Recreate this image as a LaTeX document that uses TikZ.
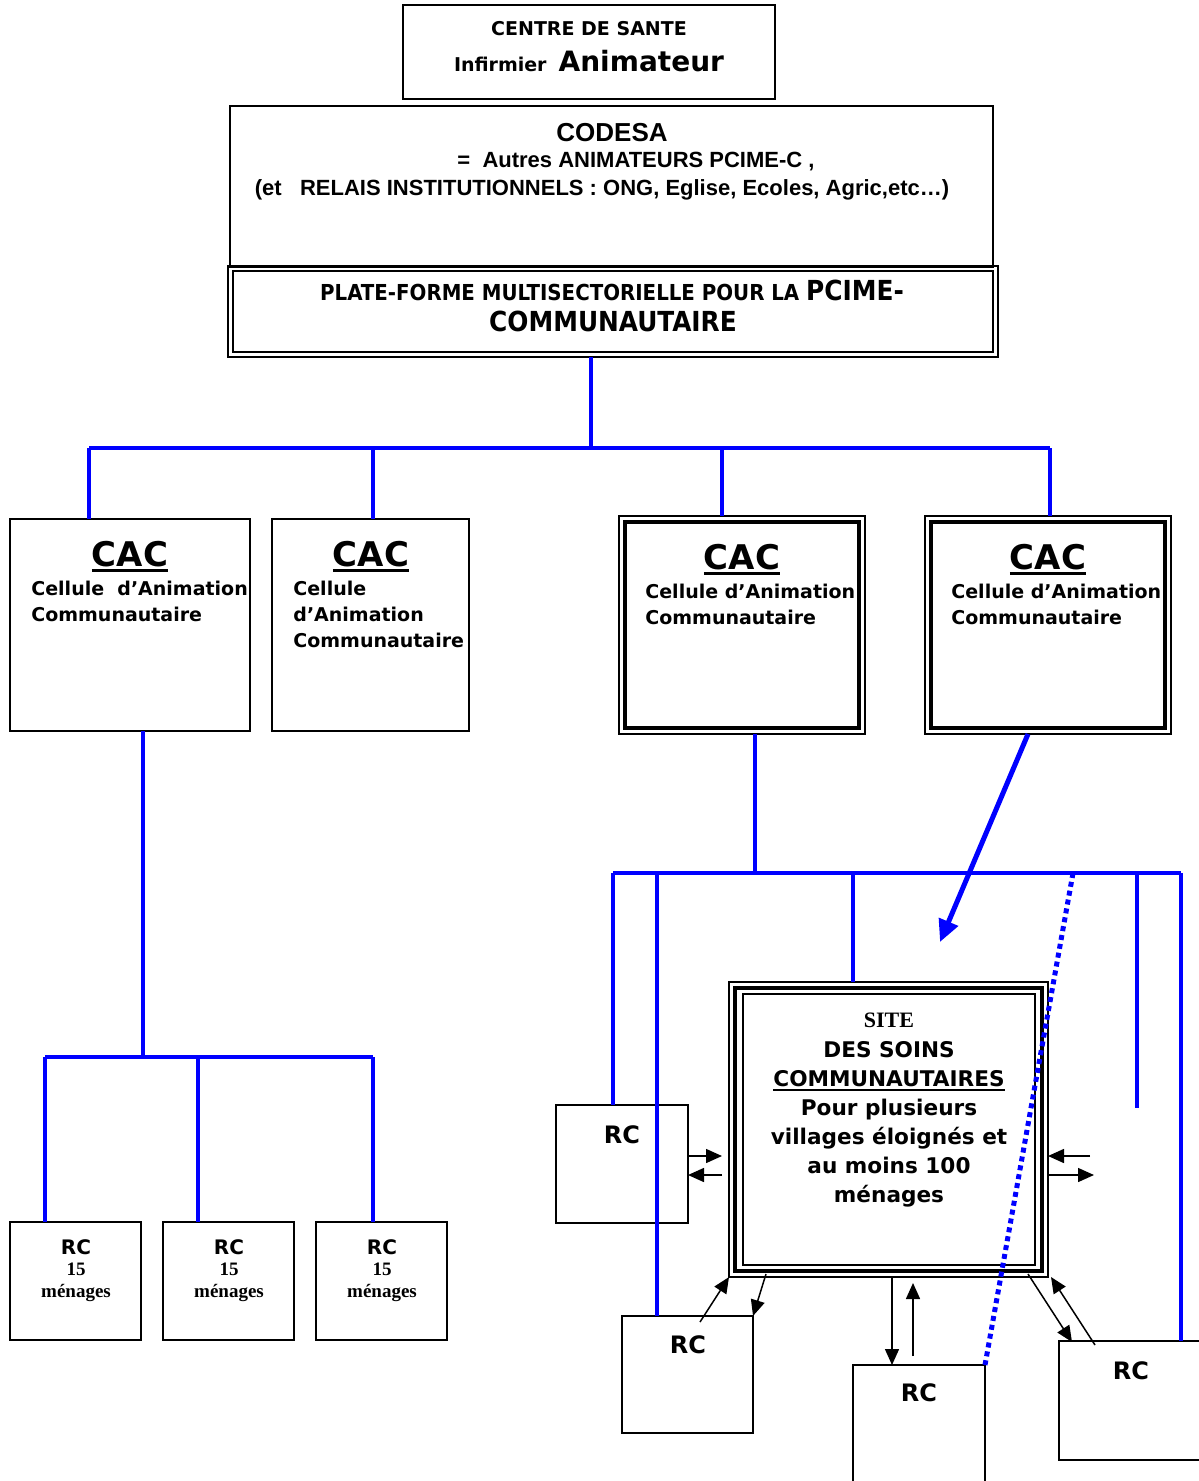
\documentclass[tikz,border=0pt]{standalone}
\usepackage{fontspec}
\setmainfont{DejaVu Sans}
\newfontfamily\arialf{Liberation Sans}
\newfontfamily\timesf{Liberation Serif}
\newfontfamily\condf{DejaVu Sans Condensed}
\usetikzlibrary{arrows.meta}
\newcommand\fs[1]{\fontsize{#1}{#1}\selectfont}
\newcommand\myul[3]{\leavevmode\setbox0=\hbox{#1}\rlap{\vrule height -#2 depth #3 width \wd0}\box0}
\newcommand\bxx[6]{\node[#6, minimum width={(#4-#2)*0.5pt}, minimum height={(#5-#3)*0.5pt}] (#1) at ({(#2+#4)/2},{(#3+#5)/2}) {};}
\begin{document}
\begin{tikzpicture}[x=0.5pt,y=-0.5pt,
  bx/.style={draw=black, line width=1pt, inner sep=0pt, outer sep=0pt},
  thinbx/.style={draw=black, line width=0.8pt, inner sep=0pt, outer sep=0pt},
  thickbx/.style={draw=black, line width=1.7pt, inner sep=0pt, outer sep=0pt},
  bl/.style={draw=blue, line width=1.6pt},
  ar/.style={draw=black, line width=0.75pt, -{Triangle[length=8pt,width=7pt]}},
  tb/.style={inner sep=0pt, anchor=base, font=\bfseries},
  tl/.style={inner sep=0pt, anchor=base west, font=\bfseries}]
\useasboundingbox[fill=white] (0,0) rectangle (1198,1481);
% ---------- boxes ----------
\bxx{top}{403}{5}{775}{99}{bx}
\bxx{codesa}{230}{106}{993}{267}{bx}
\bxx{pfo}{228}{266}{998}{357}{bx}
\bxx{pfi}{233}{271}{993}{352}{bx}
\bxx{cac1}{10}{519}{250}{731}{bx}
\bxx{cac2}{272}{519}{469}{731}{bx}
\bxx{cac3o}{619}{516}{865}{734}{thinbx}
\bxx{cac3i}{625}{522}{859}{728}{thickbx}
\bxx{cac4o}{925}{516}{1171}{734}{thinbx}
\bxx{cac4i}{931}{522}{1165}{728}{thickbx}
\bxx{rcA}{10}{1222}{141}{1340}{bx}
\bxx{rcB}{163}{1222}{294}{1340}{bx}
\bxx{rcC}{316}{1222}{447}{1340}{bx}
\bxx{siteo}{729}{982}{1048}{1277}{thinbx}
\bxx{sitem}{735}{988}{1042}{1271}{thickbx}
\bxx{sitei}{743}{994}{1035}{1265}{thinbx}
\bxx{rc1}{556}{1105}{688}{1223}{bx}
\bxx{rc2}{622}{1316}{753}{1433}{bx}
\bxx{rc3}{853}{1365}{985}{1520}{bx}
\bxx{rc4}{1059}{1341}{1240}{1460}{bx}
% ---------- texts ----------
\node[tb] (t1) at (589,36) {\fs{9.5}CENTRE DE SANTE};
\node[tb] (t2) at (589,72) {\fs{9.5}Infirmier\hspace{6pt}{\fs{14}Animateur}};
\node[tb] (c1) at (612,142) {\arialf\bfseries\fs{13}CODESA};
\node[tb] (c2) at (636,168) {\arialf\bfseries\fs{11}=\ \ Autres ANIMATEURS PCIME-C ,};
\node[tb] (c3) at (602,196) {\arialf\bfseries\fs{11}(et\ \ \ RELAIS INSTITUTIONNELS : ONG, Eglise, Ecoles, Agric,etc…)};
\node[tb] (p1) at (612,301) {\condf\bfseries\fs{11}PLATE-FORME MULTISECTORIELLE POUR LA\ {\fs{13.8}PCIME-}};
\node[tb] (p2) at (613,332) {\condf\bfseries\fs{13.8}COMMUNAUTAIRE};
% CAC texts
\node[tb] (k1) at (130,566) {\fs{17}\myul{CAC}{1.5pt}{3pt}};
\node[tl] (k1a) at (31,595) {\fs{9.5}Cellule\ \ d’Animation};
\node[tl] (k1b) at (31,621) {\fs{9.5}Communautaire};
\node[tb] (k2) at (371,566) {\fs{17}\myul{CAC}{1.5pt}{3pt}};
\node[tl] (k2a) at (293,595) {\fs{9.5}Cellule};
\node[tl] (k2b) at (293,621) {\fs{9.5}d’Animation};
\node[tl] (k2c) at (293,647) {\fs{9.5}Communautaire};
\node[tb] (k3) at (742,569) {\fs{17}\myul{CAC}{1.5pt}{3pt}};
\node[tl] (k3a) at (645,598) {\fs{9.5}Cellule d’Animation};
\node[tl] (k3b) at (645,624) {\fs{9.5}Communautaire};
\node[tb] (k4) at (1048,569) {\fs{17}\myul{CAC}{1.5pt}{3pt}};
\node[tl] (k4a) at (951,598) {\fs{9.5}Cellule d’Animation};
\node[tl] (k4b) at (951,624) {\fs{9.5}Communautaire};
% SITE texts
\node[tb] (s0) at (889,1027) {\timesf\bfseries\fs{11}SITE};
\node[tb] (s1) at (889,1057) {\fs{10.8}DES SOINS};
\node[tb] (s2) at (889,1086) {\fs{10.8}\myul{COMMUNAUTAIRES}{1.3pt}{2.3pt}};
\node[tb] (s3) at (889,1115) {\fs{10.8}Pour plusieurs};
\node[tb] (s4) at (889,1144) {\fs{10.8}villages éloignés et};
\node[tb] (s5) at (889,1173) {\fs{10.8}au moins 100};
\node[tb] (s6) at (889,1202) {\fs{10.8}ménages};
% small RC texts
\foreach \n/\x in {a/76,b/229,c/382}{
  \node[tb] (rt\n) at (\x,1254) {\fs{10}RC};
  \node[tb] (rn\n) at (\x,1275) {\timesf\bfseries\fs{9.5}15};
  \node[tb] (rm\n) at (\x,1297) {\timesf\bfseries\fs{9.5}ménages};
}
\node[tb] (rl1) at (622,1143) {\fs{12}RC};
\node[tb] (rl2) at (688,1353) {\fs{12}RC};
\node[tb] (rl3) at (919,1401) {\fs{12}RC};
\node[tb] (rl4) at (1131,1379) {\fs{12}RC};
% ---------- blue tree ----------
\coordinate (j0) at (591,448);
\coordinate (b1) at (89,448);
\coordinate (b2) at (373,448);
\coordinate (b3) at (722,448);
\coordinate (b4) at (1050,448);
\draw[bl] (j0 |- pfo.south) -- (j0);
\draw[bl] (b1) -- (b4);
\draw[bl] (b1) -- (b1 |- cac1.north);
\draw[bl] (b2) -- (b2 |- cac2.north);
\draw[bl] (b3) -- (b3 |- cac3o.north);
\draw[bl] (b4) -- (b4 |- cac4o.north);
% left branch
\coordinate (l0) at (143,1057);
\coordinate (l1) at (45,1057);
\coordinate (l2) at (198,1057);
\coordinate (l3) at (373,1057);
\draw[bl] (l0 |- cac1.south) -- (l0);
\draw[bl] (l1) -- (l3);
\draw[bl] (l1) -- (l1 |- rcA.north);
\draw[bl] (l2) -- (l2 |- rcB.north);
\draw[bl] (l3) -- (l3 |- rcC.north);
% right branch
\coordinate (r0) at (755,873);
\coordinate (r1) at (613,873);
\coordinate (r2) at (657,873);
\coordinate (r3) at (853,873);
\coordinate (r4) at (1137,873);
\coordinate (r5) at (1181,873);
\coordinate (r4e) at (1137,1108);
\coordinate (dd) at (1073,873);
\draw[bl] (r0 |- cac3o.south) -- (r0);
\draw[bl] (r1) -- (r5);
\draw[bl] (r1) -- (r1 |- rc1.north);
\draw[bl] (r2) -- (r2 |- rc2.north);
\draw[bl] (r3) -- (r3 |- siteo.north);
\draw[bl] (r4) -- (r4e);
\draw[bl] (r5) -- (r5 |- rc4.north);
\coordinate (a1) at (1028,734);
\coordinate (a2) at (940,942);
\draw[blue, line width=2.5pt, -{Triangle[length=11pt,width=10pt]}] (a1) -- (a2);
\draw[blue, line width=2.5pt, dash pattern=on 2.5pt off 2pt] (dd) -- (rc3.north east);
% ---------- black arrows ----------
\draw[ar] (rc1.east |- 0,1156) -- (722,1156);
\draw[ar] (722,1175) -- (rc1.east |- 0,1175);
\draw[ar] (1090,1156) -- (siteo.east |- 0,1156);
\draw[ar] (siteo.east |- 0,1175) -- (1094,1175);
\draw[ar] (700,1322) -- (siteo.south west);
\draw[ar] (766,1274) -- (rc2.north east);
\draw[ar] (892,1277) -- (rc3.north -| 892,0);
\draw[ar] (913,1356) -- (913,1283);
\draw[ar] (1028,1274) -- (1072,1342);
\draw[ar] (1095,1345) -- (1051,1277);
\end{tikzpicture}
\end{document}
